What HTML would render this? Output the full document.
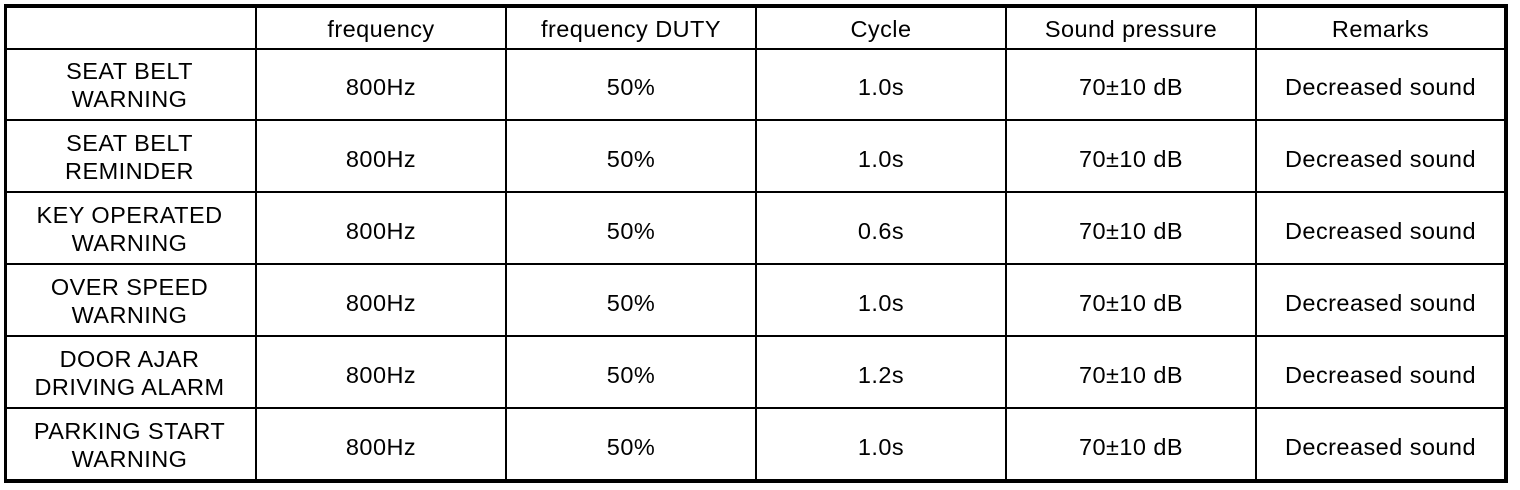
<!DOCTYPE html>
<html>
<head>
<meta charset="utf-8">
<style>
  html,body{margin:0;padding:0;background:#fff;}
  #c{position:relative;width:1520px;height:490px;overflow:hidden;background:#fff;
     font-family:"Liberation Sans",Arial,Helvetica,sans-serif;color:#000;}
  .h{position:absolute;background:#000;}
  .t{position:absolute;text-align:center;font-size:23.5px;line-height:28px;letter-spacing:0.45px;white-space:nowrap;}
</style>
</head>
<body>
<div id="c">
  <!-- outer border -->
  <div class="h" style="left:4px;top:4px;width:1504px;height:4px;"></div>
  <div class="h" style="left:4px;top:479px;width:1504px;height:4px;"></div>
  <div class="h" style="left:4px;top:4px;width:3px;height:479px;"></div>
  <div class="h" style="left:1504px;top:4px;width:4px;height:479px;"></div>
  <!-- vertical inner lines -->
  <div class="h" style="left:255px;top:4px;width:2px;height:477px;"></div>
  <div class="h" style="left:505px;top:4px;width:2px;height:477px;"></div>
  <div class="h" style="left:755px;top:4px;width:2px;height:477px;"></div>
  <div class="h" style="left:1005px;top:4px;width:2px;height:477px;"></div>
  <div class="h" style="left:1255px;top:4px;width:2px;height:477px;"></div>
  <!-- horizontal inner lines -->
  <div class="h" style="left:4px;top:48px;width:1504px;height:2px;"></div>
  <div class="h" style="left:4px;top:119px;width:1504px;height:2px;"></div>
  <div class="h" style="left:4px;top:191px;width:1504px;height:2px;"></div>
  <div class="h" style="left:4px;top:263px;width:1504px;height:2px;"></div>
  <div class="h" style="left:4px;top:335px;width:1504px;height:2px;"></div>
  <div class="h" style="left:4px;top:407px;width:1504px;height:2px;"></div>

  <!-- header -->
  <div class="t" style="left:257px;width:248px;top:14.6px;">frequency</div>
  <div class="t" style="left:507px;width:248px;top:14.6px;">frequency DUTY</div>
  <div class="t" style="left:757px;width:248px;top:14.6px;">Cycle</div>
  <div class="t" style="left:1007px;width:248px;top:14.6px;">Sound pressure</div>
  <div class="t" style="left:1257px;width:247px;top:14.6px;">Remarks</div>

  <!-- row 1 -->
  <div class="t" style="left:4px;width:251px;top:56.9px;">SEAT BELT<br>WARNING</div>
  <div class="t" style="left:257px;width:248px;top:72.9px;">800Hz</div>
  <div class="t" style="left:507px;width:248px;top:72.9px;">50%</div>
  <div class="t" style="left:757px;width:248px;top:72.9px;">1.0s</div>
  <div class="t" style="left:1007px;width:248px;top:72.9px;">70±10 dB</div>
  <div class="t" style="left:1257px;width:247px;top:72.9px;">Decreased sound</div>

  <!-- row 2 -->
  <div class="t" style="left:4px;width:251px;top:128.9px;">SEAT BELT<br>REMINDER</div>
  <div class="t" style="left:257px;width:248px;top:144.9px;">800Hz</div>
  <div class="t" style="left:507px;width:248px;top:144.9px;">50%</div>
  <div class="t" style="left:757px;width:248px;top:144.9px;">1.0s</div>
  <div class="t" style="left:1007px;width:248px;top:144.9px;">70±10 dB</div>
  <div class="t" style="left:1257px;width:247px;top:144.9px;">Decreased sound</div>

  <!-- row 3 -->
  <div class="t" style="left:4px;width:251px;top:200.9px;">KEY OPERATED<br>WARNING</div>
  <div class="t" style="left:257px;width:248px;top:216.9px;">800Hz</div>
  <div class="t" style="left:507px;width:248px;top:216.9px;">50%</div>
  <div class="t" style="left:757px;width:248px;top:216.9px;">0.6s</div>
  <div class="t" style="left:1007px;width:248px;top:216.9px;">70±10 dB</div>
  <div class="t" style="left:1257px;width:247px;top:216.9px;">Decreased sound</div>

  <!-- row 4 -->
  <div class="t" style="left:4px;width:251px;top:272.9px;">OVER SPEED<br>WARNING</div>
  <div class="t" style="left:257px;width:248px;top:288.9px;">800Hz</div>
  <div class="t" style="left:507px;width:248px;top:288.9px;">50%</div>
  <div class="t" style="left:757px;width:248px;top:288.9px;">1.0s</div>
  <div class="t" style="left:1007px;width:248px;top:288.9px;">70±10 dB</div>
  <div class="t" style="left:1257px;width:247px;top:288.9px;">Decreased sound</div>

  <!-- row 5 -->
  <div class="t" style="left:4px;width:251px;top:344.9px;">DOOR AJAR<br>DRIVING ALARM</div>
  <div class="t" style="left:257px;width:248px;top:360.9px;">800Hz</div>
  <div class="t" style="left:507px;width:248px;top:360.9px;">50%</div>
  <div class="t" style="left:757px;width:248px;top:360.9px;">1.2s</div>
  <div class="t" style="left:1007px;width:248px;top:360.9px;">70±10 dB</div>
  <div class="t" style="left:1257px;width:247px;top:360.9px;">Decreased sound</div>

  <!-- row 6 -->
  <div class="t" style="left:4px;width:251px;top:416.9px;">PARKING START<br>WARNING</div>
  <div class="t" style="left:257px;width:248px;top:432.9px;">800Hz</div>
  <div class="t" style="left:507px;width:248px;top:432.9px;">50%</div>
  <div class="t" style="left:757px;width:248px;top:432.9px;">1.0s</div>
  <div class="t" style="left:1007px;width:248px;top:432.9px;">70±10 dB</div>
  <div class="t" style="left:1257px;width:247px;top:432.9px;">Decreased sound</div>
</div>
</body>
</html>
